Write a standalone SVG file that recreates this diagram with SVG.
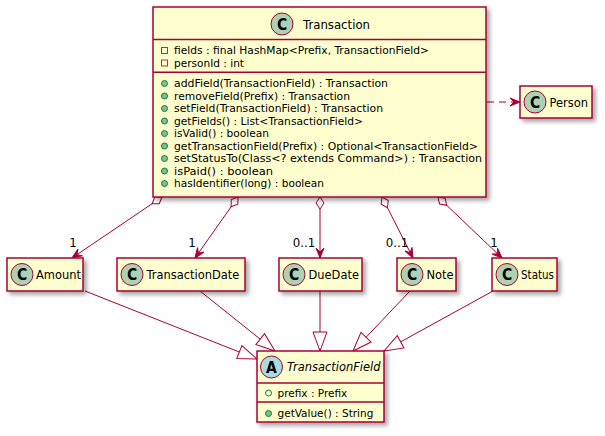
<svg xmlns="http://www.w3.org/2000/svg" width="605" height="436" viewBox="0 0 605 436">
<style>
.box{fill:#FEFECE;stroke:#A80036;stroke-width:1.5;filter:url(#sh)}
.sep{stroke:#A80036;stroke-width:1.5}
.cc{fill:#ADD1B2;stroke:#A80036;stroke-width:1}
.ca{fill:#A9DCDF;stroke:#A80036;stroke-width:1}
.cl{font-family:"DejaVu Sans Condensed","DejaVu Sans",sans-serif;font-weight:bold;font-size:15.5px;text-anchor:middle;fill:#000}
.t{font-family:"DejaVu Sans",sans-serif;font-size:11.45px;fill:#000}
.m{font-family:"DejaVu Sans",sans-serif;font-size:10.5px;fill:#000}
.priv{fill:none;stroke:#C82930;stroke-width:1}
.pub{fill:#84BE84;stroke:#038048;stroke-width:1}
.pubf{fill:none;stroke:#038048;stroke-width:1}
.ln{fill:none;stroke:#A80036;stroke-width:1}
.lbl{font-family:"DejaVu Sans",sans-serif;font-size:11.8px;fill:#000;text-anchor:middle}
</style>
<defs>
<filter id="sh" x="-10%" y="-10%" width="130%" height="130%">
<feDropShadow dx="3" dy="3" stdDeviation="2" flood-color="#000" flood-opacity="0.35"/>
</filter>
<marker id="arr" viewBox="-11 -5 12 10" refX="0" refY="0" markerWidth="12" markerHeight="10" markerUnits="userSpaceOnUse" orient="auto">
<path d="M0,0 L-10,-4 L-6,0 L-10,4 Z" fill="#A80036" stroke="#A80036" stroke-width="1"/>
</marker>
<marker id="dia" viewBox="-1 -5 14 10" refX="0" refY="0" markerWidth="14" markerHeight="10" markerUnits="userSpaceOnUse" orient="auto">
<path d="M0,0 L6,-4 L12,0 L6,4 Z" fill="#FFFFFF" stroke="#A80036" stroke-width="1"/>
</marker>
<marker id="tri" viewBox="-20 -8 21 16" refX="0" refY="0" markerWidth="21" markerHeight="16" markerUnits="userSpaceOnUse" orient="auto">
<path d="M0,0 L-19,-7 L-19,7 Z" fill="#FFFFFF" stroke="#A80036" stroke-width="1"/>
</marker>
</defs>
<rect width="605" height="436" fill="#FFFFFF"/>

<g id="connectors">
<line class="ln" x1="162" y1="197" x2="72" y2="258" marker-start="url(#dia)" marker-end="url(#arr)"/>
<line class="ln" x1="238" y1="197" x2="195" y2="258" marker-start="url(#dia)" marker-end="url(#arr)"/>
<line class="ln" x1="320" y1="197" x2="320" y2="258" marker-start="url(#dia)" marker-end="url(#arr)"/>
<line class="ln" x1="382" y1="197" x2="413" y2="258" marker-start="url(#dia)" marker-end="url(#arr)"/>
<line class="ln" x1="438" y1="197" x2="502" y2="258" marker-start="url(#dia)" marker-end="url(#arr)"/>
<text class="lbl" x="73" y="246.5">1</text>
<text class="lbl" x="192" y="246.5">1</text>
<text class="lbl" x="304" y="246.5">0..1</text>
<text class="lbl" x="397" y="246.5">0..1</text>
<text class="lbl" x="494" y="246.5">1</text>
<line class="ln" x1="85" y1="291" x2="257" y2="359" marker-end="url(#tri)"/>
<line class="ln" x1="200" y1="291" x2="275" y2="351" marker-end="url(#tri)"/>
<line class="ln" x1="320" y1="291" x2="320" y2="351" marker-end="url(#tri)"/>
<line class="ln" x1="410" y1="291" x2="353" y2="351" marker-end="url(#tri)"/>
<line class="ln" x1="493" y1="291" x2="384" y2="351" marker-end="url(#tri)"/>
<line class="ln" x1="487" y1="102" x2="520" y2="102" stroke-dasharray="7,5" marker-end="url(#arr)"/>
</g>

<g id="Transaction">
<rect class="box" x="153" y="7" width="333" height="190"/>
<circle class="cc" cx="282" cy="24" r="11"/>
<text class="cl" x="282" y="29.6">C</text>
<text class="t" x="303" y="28.5" textLength="67" lengthAdjust="spacingAndGlyphs">Transaction</text>
<line class="sep" x1="153" y1="39.5" x2="486" y2="39.5"/>
<rect class="priv" x="161.5" y="47.5" width="6" height="6"/>
<text class="m" x="174" y="54" textLength="255" lengthAdjust="spacingAndGlyphs">fields : final HashMap&lt;Prefix, TransactionField&gt;</text>
<rect class="priv" x="161.5" y="60" width="6" height="6"/>
<text class="m" x="174" y="66.7" textLength="70" lengthAdjust="spacingAndGlyphs">personId : int</text>
<line class="sep" x1="153" y1="72.3" x2="486" y2="72.3"/>
<circle class="pub" cx="164.5" cy="83.5" r="3"/>
<text class="m" x="174" y="87.3" textLength="214" lengthAdjust="spacingAndGlyphs">addField(TransactionField) : Transaction</text>
<circle class="pub" cx="164.5" cy="96" r="3"/>
<text class="m" x="174" y="99.8" textLength="176" lengthAdjust="spacingAndGlyphs">removeField(Prefix) : Transaction</text>
<circle class="pub" cx="164.5" cy="108.5" r="3"/>
<text class="m" x="174" y="112.3" textLength="209" lengthAdjust="spacingAndGlyphs">setField(TransactionField) : Transaction</text>
<circle class="pub" cx="164.5" cy="121" r="3"/>
<text class="m" x="174" y="124.8" textLength="189" lengthAdjust="spacingAndGlyphs">getFields() : List&lt;TransactionField&gt;</text>
<circle class="pub" cx="164.5" cy="133.5" r="3"/>
<text class="m" x="174" y="137.3" textLength="95" lengthAdjust="spacingAndGlyphs">isValid() : boolean</text>
<circle class="pub" cx="164.5" cy="146" r="3"/>
<text class="m" x="174" y="149.8" textLength="304" lengthAdjust="spacingAndGlyphs">getTransactionField(Prefix) : Optional&lt;TransactionField&gt;</text>
<circle class="pub" cx="164.5" cy="158.5" r="3"/>
<text class="m" x="174" y="162.3" textLength="308" lengthAdjust="spacingAndGlyphs">setStatusTo(Class&lt;? extends Command&gt;) : Transaction</text>
<circle class="pub" cx="164.5" cy="171" r="3"/>
<text class="m" x="174" y="174.8" textLength="99" lengthAdjust="spacingAndGlyphs">isPaid() : boolean</text>
<circle class="pub" cx="164.5" cy="183.5" r="3"/>
<text class="m" x="174" y="187.3" textLength="150" lengthAdjust="spacingAndGlyphs">hasIdentifier(long) : boolean</text>
</g>

<g id="Person">
<rect class="box" x="520" y="86" width="72" height="32"/>
<circle class="cc" cx="535" cy="102" r="11"/>
<text class="cl" x="535" y="107.6">C</text>
<text class="t" x="549.5" y="106.5">Person</text>
</g>

<g id="Amount">
<rect class="box" x="7" y="258" width="76" height="33"/>
<circle class="cc" cx="22" cy="274.5" r="11"/>
<text class="cl" x="22" y="280.1">C</text>
<text class="t" x="36" y="279">Amount</text>
</g>

<g id="TransactionDate">
<rect class="box" x="117" y="258" width="128" height="33"/>
<circle class="cc" cx="132" cy="274.5" r="11"/>
<text class="cl" x="132" y="280.1">C</text>
<text class="t" x="146.5" y="279">TransactionDate</text>
</g>

<g id="DueDate">
<rect class="box" x="279" y="258" width="83" height="33"/>
<circle class="cc" cx="294" cy="274.5" r="11"/>
<text class="cl" x="294" y="280.1">C</text>
<text class="t" x="308.5" y="279">DueDate</text>
</g>

<g id="Note">
<rect class="box" x="397" y="258" width="59" height="33"/>
<circle class="cc" cx="412" cy="274.5" r="11"/>
<text class="cl" x="412" y="280.1">C</text>
<text class="t" x="426.5" y="279">Note</text>
</g>

<g id="Status">
<rect class="box" x="492" y="258" width="65" height="33"/>
<circle class="cc" cx="507" cy="274.5" r="11"/>
<text class="cl" x="507" y="280.1">C</text>
<text class="t" x="521" y="279" textLength="33" lengthAdjust="spacingAndGlyphs">Status</text>
</g>

<g id="TransactionField">
<rect class="box" x="257" y="351" width="127" height="71"/>
<circle class="ca" cx="271.5" cy="367" r="11"/>
<text class="cl" x="271.5" y="372.6">A</text>
<text class="t" x="287" y="371" font-style="italic">TransactionField</text>
<line class="sep" x1="257" y1="383" x2="384" y2="383"/>
<circle class="pubf" cx="268.5" cy="393" r="3"/>
<text class="m" x="277.5" y="396.7">prefix : Prefix</text>
<line class="sep" x1="257" y1="402" x2="384" y2="402"/>
<circle class="pub" cx="268.5" cy="413.5" r="3"/>
<text class="m" x="277.5" y="417.3">getValue() : String</text>
</g>
</svg>
